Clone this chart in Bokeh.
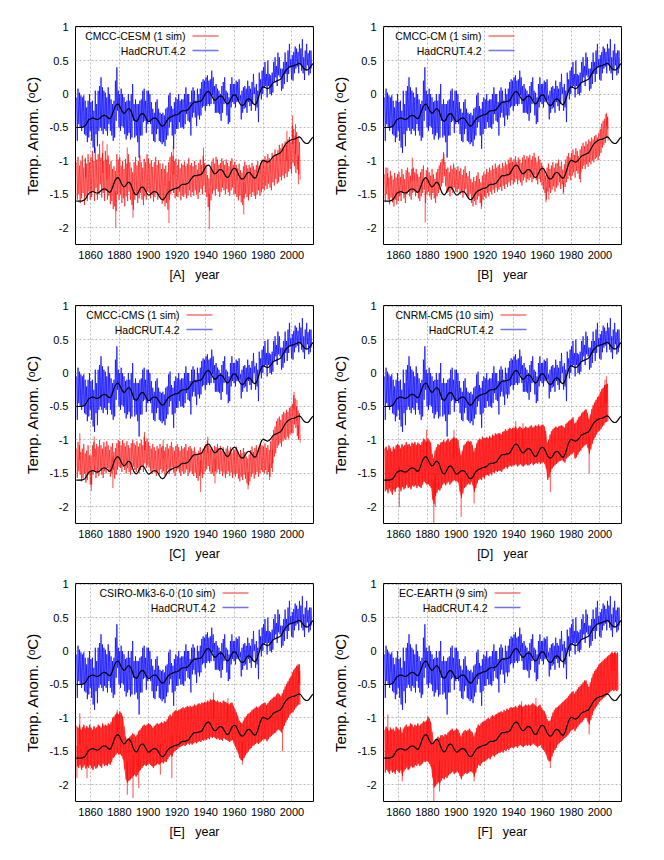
import numpy as np
from bokeh.plotting import figure
from bokeh.layouts import gridplot
from bokeh.models import Range1d, FixedTicker, Label, BoxAnnotation
from bokeh.embed import file_html
from bokeh.resources import INLINE

# ---------------- data ----------------
x_ticks = [1860, 1880, 1900, 1920, 1940, 1960, 1980, 2000]
y_ticks = [-2, -1.5, -1, -0.5, 0, 0.5, 1]
y_tick_labels = ["-2", "-1.5", "-1", "-0.5", "0", "0.5", "1"]

# black smooth curve (annual, 1850-2015); lower copy is shifted by model_offset
smooth_start = 1850
smooth = [
    -0.50, -0.50, -0.50, -0.50, -0.50, -0.49, -0.48, -0.45, -0.41, -0.38,
    -0.37, -0.36, -0.36, -0.37, -0.38, -0.38, -0.37, -0.35, -0.33, -0.32,
    -0.32, -0.33, -0.35, -0.37, -0.36, -0.31, -0.25, -0.19, -0.16, -0.15,
    -0.17, -0.22, -0.26, -0.29, -0.28, -0.25, -0.22, -0.22, -0.25, -0.31,
    -0.37, -0.40, -0.41, -0.38, -0.33, -0.30, -0.29, -0.30, -0.34, -0.38,
    -0.41, -0.41, -0.39, -0.37, -0.36, -0.36, -0.37, -0.40, -0.44, -0.47,
    -0.48, -0.47, -0.44, -0.40, -0.37, -0.35, -0.34, -0.33, -0.32, -0.31,
    -0.31, -0.30, -0.28, -0.26, -0.25, -0.25, -0.25, -0.24, -0.23, -0.20,
    -0.17, -0.14, -0.12, -0.12, -0.12, -0.11, -0.11, -0.10, -0.07, -0.03,
    0.01, 0.03, 0.04, 0.02, -0.02, -0.06, -0.09, -0.09, -0.07, -0.04,
    -0.03, -0.03, -0.05, -0.09, -0.13, -0.15, -0.14, -0.10, -0.05, -0.02,
    -0.01, -0.02, -0.06, -0.11, -0.15, -0.17, -0.17, -0.15, -0.11, -0.08,
    -0.07, -0.08, -0.11, -0.14, -0.16, -0.15, -0.10, -0.03, 0.04, 0.09,
    0.11, 0.10, 0.09, 0.08, 0.09, 0.11, 0.14, 0.17, 0.18, 0.19,
    0.20, 0.21, 0.22, 0.25, 0.29, 0.33, 0.36, 0.38, 0.40, 0.41,
    0.42, 0.42, 0.43, 0.44, 0.45, 0.46, 0.45, 0.42, 0.39, 0.37,
    0.36, 0.36, 0.38, 0.41, 0.44, 0.46,
]
model_offset = -1.1

# HadCRUT.4.2: yearly high / low of the monthly values, 1850-2013
had_start = 1850
had_hi = [
    -0.05, 0.08, 0.02, -0.02, -0.05, -0.02, -0.10, -0.20, -0.10, 0.00,
    -0.12, -0.10, -0.25, 0.05, -0.15, 0.05, 0.12, 0.25, 0.10, 0.05,
    0.02, -0.05, 0.10, 0.00, -0.08, -0.15, -0.10, 0.20, 0.40, 0.05,
    0.00, 0.08, 0.00, -0.05, -0.12, -0.10, 0.00, -0.10, 0.00, 0.15,
    -0.15, -0.08, -0.15, -0.15, -0.10, -0.08, 0.05, 0.08, -0.10, 0.05,
    0.05, 0.00, -0.12, -0.22, -0.28, -0.12, -0.08, -0.22, -0.28, -0.30,
    -0.28, -0.32, -0.22, -0.20, -0.02, 0.02, -0.18, -0.22, -0.12, -0.05,
    -0.08, 0.00, -0.10, -0.08, -0.08, 0.00, 0.10, 0.00, 0.00, -0.12,
    0.05, 0.10, 0.05, -0.10, 0.08, 0.00, 0.08, 0.18, 0.22, 0.20,
    0.25, 0.28, 0.20, 0.22, 0.35, 0.25, 0.12, 0.15, 0.08, 0.05,
    0.00, 0.12, 0.18, 0.25, 0.05, 0.02, -0.05, 0.15, 0.25, 0.15,
    0.15, 0.20, 0.18, 0.22, -0.02, 0.05, 0.10, 0.12, 0.08, 0.20,
    0.12, 0.08, 0.18, 0.30, 0.10, 0.15, 0.05, 0.32, 0.22, 0.35,
    0.40, 0.48, 0.30, 0.50, 0.30, 0.28, 0.32, 0.48, 0.55, 0.42,
    0.62, 0.55, 0.38, 0.38, 0.48, 0.62, 0.48, 0.65, 0.75, 0.52,
    0.58, 0.63, 0.71, 0.68, 0.63, 0.75, 0.68, 0.82, 0.55, 0.65,
    0.75, 0.61, 0.65, 0.65,
]
had_lo = [
    -0.70, -0.45, -0.50, -0.55, -0.50, -0.60, -0.62, -0.72, -0.65, -0.55,
    -0.70, -0.80, -0.88, -0.60, -0.78, -0.55, -0.50, -0.55, -0.60, -0.52,
    -0.55, -0.62, -0.45, -0.55, -0.62, -0.70, -0.65, -0.40, -0.25, -0.50,
    -0.55, -0.48, -0.50, -0.60, -0.68, -0.62, -0.58, -0.68, -0.65, -0.40,
    -0.65, -0.62, -0.72, -0.95, -0.62, -0.62, -0.42, -0.40, -0.58, -0.45,
    -0.40, -0.45, -0.60, -0.70, -0.72, -0.60, -0.52, -0.70, -0.72, -0.75,
    -0.72, -0.78, -0.68, -0.62, -0.50, -0.42, -0.62, -0.82, -0.60, -0.52,
    -0.52, -0.42, -0.50, -0.50, -0.52, -0.45, -0.30, -0.40, -0.42, -0.62,
    -0.35, -0.28, -0.35, -0.48, -0.32, -0.38, -0.32, -0.20, -0.18, -0.25,
    -0.18, -0.15, -0.18, -0.15, -0.02, -0.15, -0.28, -0.28, -0.28, -0.30,
    -0.40, -0.28, -0.15, -0.10, -0.32, -0.45, -0.42, -0.20, -0.12, -0.15,
    -0.20, -0.12, -0.10, -0.10, -0.38, -0.28, -0.22, -0.20, -0.28, -0.12,
    -0.18, -0.25, -0.15, 0.00, -0.25, -0.20, -0.42, 0.02, -0.08, 0.00,
    0.10, 0.12, -0.05, 0.12, 0.00, -0.02, 0.02, 0.18, 0.25, 0.12,
    0.28, 0.25, 0.05, 0.08, 0.15, 0.30, 0.18, 0.30, 0.40, 0.22,
    0.20, 0.31, 0.38, 0.41, 0.31, 0.43, 0.35, 0.31, 0.21, 0.35,
    0.43, 0.28, 0.31, 0.38,
]

# Models (already shifted by -1.1 as plotted): annual centre, per-decade half spread, spikes
cesm_mean = [
    -1.30, -1.22, -1.35, -1.28, -1.20, -1.38, -1.25, -1.32, -1.18, -1.30,
    -1.24, -1.15, -1.30, -1.10, -1.28, -1.20, -1.05, -1.25, -1.18, -1.30,
    -1.15, -1.28, -1.22, -1.35, -1.30, -1.42, -1.38, -1.45, -1.20, -1.28,
    -1.22, -1.35, -1.28, -1.40, -1.25, -1.32, -1.18, -1.30, -1.38, -1.45,
    -1.30, -1.22, -1.35, -1.28, -1.20, -1.30, -1.38, -1.25, -1.30, -1.18,
    -1.22, -1.30, -1.25, -1.35, -1.28, -1.20, -1.32, -1.25, -1.30, -1.38,
    -1.32, -1.40, -1.35, -1.45, -1.30, -1.22, -1.15, -1.20, -1.28, -1.25,
    -1.30, -1.22, -1.35, -1.28, -1.30, -1.25, -1.32, -1.28, -1.20, -1.30,
    -1.25, -1.30, -1.22, -1.28, -1.35, -1.25, -1.20, -1.28, -1.15, -1.25,
    -1.30, -1.45, -1.50, -1.35, -1.25, -1.20, -1.28, -1.18, -1.22, -1.30,
    -1.25, -1.18, -1.22, -1.28, -1.20, -1.25, -1.30, -1.22, -1.18, -1.28,
    -1.25, -1.30, -1.35, -1.28, -1.38, -1.42, -1.32, -1.25, -1.30, -1.35,
    -1.28, -1.32, -1.25, -1.30, -1.35, -1.28, -1.22, -1.30, -1.25, -1.20,
    -1.22, -1.15, -1.20, -1.12, -1.18, -1.22, -1.10, -1.15, -1.05, -1.12,
    -1.08, -1.00, -1.05, -0.98, -1.02, -0.95, -1.00, -0.92, -0.88, -0.95,
    -0.75, -0.80, -0.90, -0.85, -0.92, -1.00,
]
cesm_spread = [0.28, 0.30, 0.30, 0.28, 0.28, 0.26, 0.28, 0.24,
               0.22, 0.24, 0.22, 0.24, 0.22, 0.22, 0.24, 0.28]
cesm_spike_years = [1856, 1868, 1871, 1877, 1885, 1889, 1914, 1917, 1938, 1942, 1966, 1996, 2000, 2002, 2004]
cesm_spike_vals = [-0.95, -0.70, -0.75, -2.00, -0.80, -1.85, -1.93, -0.78, -0.80, -2.02, -1.80, -0.55, -0.32, -0.45, -1.35]

cm_mean = [
    -1.40, -1.30, -1.38, -1.45, -1.35, -1.42, -1.48, -1.38, -1.45, -1.40,
    -1.35, -1.42, -1.30, -1.38, -1.45, -1.32, -1.28, -1.35, -1.40, -1.30,
    -1.28, -1.35, -1.30, -1.38, -1.42, -1.35, -1.30, -1.25, -1.45, -1.32,
    -1.28, -1.35, -1.40, -1.30, -1.38, -1.45, -1.35, -1.30, -1.25, -1.20,
    -1.15, -1.05, -1.20, -1.30, -1.28, -1.35, -1.25, -1.30, -1.22, -1.28,
    -1.30, -1.25, -1.32, -1.28, -1.38, -1.30, -1.25, -1.35, -1.40, -1.32,
    -1.45, -1.50, -1.42, -1.48, -1.40, -1.35, -1.45, -1.50, -1.40, -1.35,
    -1.38, -1.30, -1.35, -1.28, -1.32, -1.25, -1.30, -1.22, -1.28, -1.25,
    -1.22, -1.28, -1.20, -1.25, -1.18, -1.22, -1.15, -1.20, -1.12, -1.18,
    -1.15, -1.10, -1.18, -1.12, -1.15, -1.20, -1.12, -1.08, -1.15, -1.10,
    -1.12, -1.08, -1.15, -1.10, -1.05, -1.12, -1.18, -1.10, -1.15, -1.20,
    -1.25, -1.30, -1.40, -1.28, -1.22, -1.30, -1.25, -1.20, -1.28, -1.22,
    -1.20, -1.15, -1.25, -1.18, -1.30, -1.22, -1.15, -1.10, -1.05, -1.12,
    -1.05, -1.00, -1.08, -0.98, -1.02, -1.10, -1.00, -0.95, -0.90, -0.95,
    -0.88, -0.92, -0.85, -0.88, -0.82, -0.85, -0.80, -0.78, -0.82, -0.75,
    -0.70, -0.62, -0.58, -0.55, -0.48, -0.52,
]
cm_spread = [0.20, 0.18, 0.18, 0.18, 0.18, 0.17, 0.18, 0.18,
             0.17, 0.17, 0.17, 0.18, 0.17, 0.17, 0.17, 0.18]
cm_spike_years = [1852, 1869, 1878, 1891, 1917, 1937, 1962, 1964, 1974, 1986, 2004, 2005]
cm_spike_vals = [-1.10, -0.95, -1.92, -0.90, -1.72, -0.95, -1.62, -1.58, -1.50, -1.32, -0.28, -0.35]

cms_mean = [
    -1.35, -1.25, -1.30, -1.40, -1.35, -1.28, -1.42, -1.38, -1.30, -1.45,
    -1.45, -1.30, -1.25, -1.35, -1.28, -1.32, -1.22, -1.30, -1.35, -1.25,
    -1.30, -1.22, -1.28, -1.35, -1.30, -1.25, -1.38, -1.32, -1.25, -1.20,
    -1.22, -1.28, -1.20, -1.25, -1.30, -1.22, -1.28, -1.32, -1.25, -1.20,
    -1.25, -1.28, -1.22, -1.30, -1.25, -1.20, -1.28, -1.15, -1.22, -1.18,
    -1.22, -1.28, -1.32, -1.25, -1.30, -1.35, -1.28, -1.32, -1.25, -1.30,
    -1.28, -1.35, -1.30, -1.25, -1.32, -1.28, -1.22, -1.30, -1.35, -1.28,
    -1.25, -1.30, -1.35, -1.28, -1.32, -1.30, -1.25, -1.35, -1.30, -1.28,
    -1.32, -1.35, -1.30, -1.38, -1.42, -1.35, -1.30, -1.38, -1.32, -1.28,
    -1.25, -1.20, -1.28, -1.32, -1.30, -1.35, -1.28, -1.30, -1.25, -1.32,
    -1.28, -1.35, -1.30, -1.38, -1.32, -1.28, -1.35, -1.30, -1.38, -1.32,
    -1.35, -1.30, -1.38, -1.42, -1.35, -1.40, -1.32, -1.38, -1.45, -1.48,
    -1.42, -1.35, -1.30, -1.38, -1.32, -1.28, -1.35, -1.30, -1.25, -1.28,
    -1.30, -1.25, -1.32, -1.28, -1.35, -1.22, -1.15, -1.05, -1.00, -0.92,
    -0.88, -0.85, -0.90, -0.82, -0.78, -0.80, -0.75, -0.78, -0.72, -0.70,
    -0.68, -0.55, -0.60, -0.72, -0.78, -0.82,
]
cms_spread = [0.22, 0.22, 0.20, 0.20, 0.20, 0.19, 0.19, 0.19,
              0.19, 0.19, 0.19, 0.20, 0.20, 0.20, 0.20, 0.22]
cms_spike_years = [1852, 1860, 1862, 1875, 1897, 1910, 1936, 1941, 1946, 1969, 1984, 1986, 2001, 2003, 2004]
cms_spike_vals = [-0.90, -1.76, -0.95, -1.72, -0.88, -1.00, -1.78, -0.95, -1.65, -1.74, -1.60, -1.48, -0.28, -0.40, -0.98]

cnrm_mean = [
    -1.45, -1.42, -1.48, -1.40, -1.45, -1.50, -1.42, -1.46, -1.40, -1.38,
    -1.40, -1.45, -1.38, -1.42, -1.40, -1.35, -1.40, -1.38, -1.42, -1.36,
    -1.38, -1.35, -1.40, -1.36, -1.38, -1.40, -1.35, -1.30, -1.32, -1.35,
    -1.32, -1.35, -1.38, -1.55, -1.62, -1.50, -1.45, -1.40, -1.42, -1.38,
    -1.35, -1.32, -1.36, -1.33, -1.30, -1.35, -1.32, -1.30, -1.28, -1.30,
    -1.30, -1.32, -1.45, -1.55, -1.48, -1.40, -1.38, -1.35, -1.33, -1.35,
    -1.32, -1.38, -1.48, -1.42, -1.35, -1.30, -1.28, -1.30, -1.25, -1.28,
    -1.25, -1.24, -1.26, -1.22, -1.25, -1.20, -1.22, -1.18, -1.20, -1.18,
    -1.18, -1.20, -1.16, -1.15, -1.12, -1.15, -1.12, -1.10, -1.12, -1.10,
    -1.10, -1.08, -1.12, -1.10, -1.08, -1.10, -1.12, -1.10, -1.08, -1.10,
    -1.10, -1.08, -1.06, -1.10, -1.08, -1.06, -1.08, -1.05, -1.08, -1.06,
    -1.05, -1.08, -1.15, -1.32, -1.28, -1.20, -1.15, -1.12, -1.10, -1.08,
    -1.08, -1.06, -1.05, -1.04, -1.06, -1.08, -1.02, -1.00, -0.98, -0.96,
    -0.95, -0.92, -1.02, -1.00, -0.96, -0.92, -0.90, -0.86, -0.84, -0.82,
    -0.80, -0.86, -0.95, -0.88, -0.80, -0.74, -0.70, -0.66, -0.62, -0.60,
    -0.56, -0.52, -0.50, -0.46, -0.45, -0.44,
]
cnrm_spread = [0.32, 0.32, 0.32, 0.34, 0.32, 0.32, 0.30, 0.28,
               0.28, 0.28, 0.28, 0.28, 0.26, 0.26, 0.26, 0.28]
cnrm_spike_years = [1860, 1879, 1884, 1885, 1898, 1903, 1912, 1941, 1946, 1965, 1992, 2003, 2004]
cnrm_spike_vals = [-2.00, -0.85, -2.25, -2.00, -0.85, -2.15, -1.95, -0.72, -0.75, -1.78, -1.50, -0.10, -0.05]

csiro_mean = [
    -1.42, -1.45, -1.40, -1.48, -1.44, -1.40, -1.46, -1.42, -1.45, -1.40,
    -1.45, -1.48, -1.42, -1.46, -1.44, -1.40, -1.42, -1.45, -1.38, -1.42,
    -1.40, -1.42, -1.38, -1.40, -1.36, -1.30, -1.28, -1.25, -1.22, -1.25,
    -1.22, -1.25, -1.30, -1.45, -1.60, -1.65, -1.62, -1.60, -1.58, -1.55,
    -1.55, -1.58, -1.55, -1.50, -1.48, -1.45, -1.42, -1.40, -1.42, -1.40,
    -1.38, -1.40, -1.42, -1.45, -1.42, -1.40, -1.38, -1.40, -1.38, -1.36,
    -1.38, -1.35, -1.36, -1.32, -1.28, -1.25, -1.28, -1.22, -1.20, -1.18,
    -1.18, -1.16, -1.15, -1.14, -1.12, -1.14, -1.12, -1.10, -1.12, -1.10,
    -1.12, -1.10, -1.08, -1.10, -1.08, -1.06, -1.08, -1.05, -1.06, -1.04,
    -1.05, -1.02, -1.04, -1.00, -1.02, -1.00, -1.02, -1.04, -1.02, -1.05,
    -1.04, -1.06, -1.02, -1.04, -1.05, -1.06, -1.08, -1.06, -1.05, -1.10,
    -1.15, -1.20, -1.25, -1.32, -1.35, -1.36, -1.32, -1.28, -1.25, -1.22,
    -1.20, -1.18, -1.15, -1.14, -1.12, -1.10, -1.12, -1.10, -1.08, -1.06,
    -1.05, -1.04, -1.08, -1.05, -1.02, -1.00, -0.98, -0.96, -0.95, -0.92,
    -0.90, -0.92, -0.95, -0.90, -0.85, -0.80, -0.76, -0.72, -0.68, -0.65,
    -0.62, -0.58, -0.55, -0.52, -0.50, -0.50,
]
csiro_spread = [0.30, 0.30, 0.30, 0.32, 0.30, 0.30, 0.30, 0.28,
                0.28, 0.28, 0.28, 0.28, 0.27, 0.27, 0.27, 0.30]
csiro_spike_years = [1850, 1852, 1857, 1878, 1885, 1889, 1893, 1908, 1916, 1945, 1955, 1965, 1993, 2004, 2005]
csiro_spike_vals = [-1.90, -0.93, -1.90, -0.88, -2.15, -2.20, -2.05, -1.85, -1.90, -0.62, -0.70, -1.70, -1.50, -0.25, -0.30]

ecearth_mean = [
    -1.50, -1.45, -1.48, -1.52, -1.46, -1.50, -1.48, -1.52, -1.45, -1.48,
    -1.50, -1.46, -1.55, -1.48, -1.45, -1.42, -1.46, -1.44, -1.40, -1.42,
    -1.44, -1.40, -1.42, -1.38, -1.42, -1.40, -1.38, -1.35, -1.36, -1.34,
    -1.32, -1.35, -1.40, -1.55, -1.70, -1.68, -1.65, -1.62, -1.64, -1.60,
    -1.58, -1.60, -1.56, -1.58, -1.54, -1.52, -1.50, -1.48, -1.52, -1.50,
    -1.48, -1.50, -1.55, -1.60, -1.55, -1.52, -1.50, -1.52, -1.50, -1.48,
    -1.50, -1.52, -1.58, -1.52, -1.45, -1.40, -1.42, -1.38, -1.36, -1.35,
    -1.34, -1.32, -1.30, -1.32, -1.28, -1.26, -1.28, -1.25, -1.24, -1.22,
    -1.22, -1.20, -1.22, -1.18, -1.20, -1.16, -1.18, -1.15, -1.14, -1.15,
    -1.14, -1.12, -1.15, -1.12, -1.10, -1.12, -1.14, -1.12, -1.10, -1.12,
    -1.10, -1.12, -1.10, -1.08, -1.10, -1.12, -1.14, -1.12, -1.10, -1.15,
    -1.18, -1.20, -1.25, -1.32, -1.35, -1.34, -1.28, -1.22, -1.18, -1.15,
    -1.12, -1.10, -1.08, -1.06, -1.04, -1.02, -1.00, -0.98, -0.95, -0.92,
    -0.90, -0.88, -0.92, -0.88, -0.85, -0.82, -0.80, -0.78, -0.75, -0.72,
    -0.72, -0.78, -0.82, -0.75, -0.68, -0.62, -0.58, -0.55, -0.52, -0.48,
    -0.46, -0.44, -0.42, -0.40, -0.38, -0.36, -0.34, -0.32, -0.30, -0.32,
    -0.30, -0.32, -0.30,
]
ecearth_spread = [0.32, 0.32, 0.30, 0.34, 0.32, 0.32, 0.30, 0.30, 0.30,
                  0.30, 0.30, 0.30, 0.28, 0.28, 0.28, 0.28, 0.28]
ecearth_spike_years = [1852, 1862, 1880, 1884, 1888, 1912, 1945, 1955, 1965, 1992, 2008, 2010]
ecearth_spike_vals = [-0.95, -1.95, -1.05, -2.25, -2.10, -1.95, -0.75, -0.70, -1.75, -1.25, -0.02, 0.00]

panels = [
    ("A", "CMCC-CESM (1 sim)", cesm_mean, cesm_spread, cesm_spike_years, cesm_spike_vals, False),
    ("B", "CMCC-CM (1 sim)", cm_mean, cm_spread, cm_spike_years, cm_spike_vals, False),
    ("C", "CMCC-CMS (1 sim)", cms_mean, cms_spread, cms_spike_years, cms_spike_vals, False),
    ("D", "CNRM-CM5 (10 sim)", cnrm_mean, cnrm_spread, cnrm_spike_years, cnrm_spike_vals, True),
    ("E", "CSIRO-Mk3-6-0 (10 sim)", csiro_mean, csiro_spread, csiro_spike_years, csiro_spike_vals, True),
    ("F", "EC-EARTH (9 sim)", ecearth_mean, ecearth_spread, ecearth_spike_years, ecearth_spike_vals, True),
]
model_start = 1850

# ---------------- drawing ----------------
FONT = "Liberation Sans, Arial, sans-serif"
RED = "#ff0000"
BLUE = "#0000ff"
FRAME_W, FRAME_H = 238, 218


def zigzag(years, hi, lo):
    xs = np.empty(2 * len(years))
    ys = np.empty(2 * len(years))
    xs[0::2] = years + 0.25
    xs[1::2] = years + 0.75
    ys[0::2] = hi
    ys[1::2] = lo
    return xs, ys


def make_panel(tag, name, mean, spread, sp_years, sp_vals, ensemble, col, row):
    left = 75 if col == 0 else 67
    right = 3 if col == 0 else 10
    top = 26 if row == 0 else 18
    bottom = [43, 42, 45][row]
    p = figure(width=left + FRAME_W + right, height=top + FRAME_H + bottom,
               x_range=Range1d(1849.5, 2015), y_range=Range1d(-2.25, 1.01),
               output_backend="svg", toolbar_location=None,
               min_border_left=left, min_border_right=right,
               min_border_top=top, min_border_bottom=bottom)
    p.outline_line_color = "black"
    p.outline_line_width = 1
    p.background_fill_color = "white"
    p.border_fill_color = "white"

    # model (red)
    m = np.array(mean)
    yrs = model_start + np.arange(len(m))
    s = np.array(spread)[(yrs - model_start) // 10]
    hi, lo = m + s, m - s
    if ensemble:
        p.varea(x=yrs + 0.5, y1=lo, y2=hi, fill_color=RED, fill_alpha=0.6)
        zx, zy = zigzag(yrs, hi, lo)
        p.line(zx, zy, line_color=RED, line_alpha=0.55, line_width=1)
    else:
        zx, zy = zigzag(yrs, hi, lo)
        p.line(zx, zy, line_color=RED, line_alpha=0.6, line_width=1)
    spy = np.array(sp_years)
    p.segment(x0=spy + 0.5, y0=m[spy - model_start], x1=spy + 0.5, y1=sp_vals,
              line_color=RED, line_alpha=0.7, line_width=1)

    # HadCRUT (blue)
    hyrs = had_start + np.arange(len(had_hi))
    hx, hy = zigzag(hyrs, np.array(had_hi), np.array(had_lo))
    p.line(hx, hy, line_color=BLUE, line_alpha=0.72, line_width=1)

    # smooth curves (black)
    syrs = smooth_start + np.arange(len(smooth))
    sm = np.array(smooth)
    p.line(syrs, sm, line_color="black", line_width=1.2)
    p.line(syrs, sm + model_offset, line_color="black", line_width=1.2)

    # axes
    p.xaxis.ticker = FixedTicker(ticks=x_ticks)
    p.yaxis.ticker = FixedTicker(ticks=y_ticks)
    p.yaxis.major_label_overrides = {t: l for t, l in zip(y_ticks, y_tick_labels)}
    for ax in (p.xaxis[0], p.yaxis[0]):
        ax.axis_line_color = None
        ax.major_tick_in = 0
        ax.major_tick_out = 0
        ax.minor_tick_line_color = None
        ax.major_label_text_font = FONT
        ax.major_label_text_font_size = "11px"
        ax.major_label_text_color = "black"
        ax.axis_label_text_font = FONT
        ax.axis_label_text_font_style = "normal"
        ax.axis_label_text_color = "black"
    p.xaxis.major_label_standoff = 6
    p.yaxis.major_label_standoff = 7
    p.xaxis.axis_label = "[" + tag + "]\u00a0\u00a0\u00a0year"
    p.xaxis.axis_label_text_font_size = "12.5px"
    p.xaxis.axis_label_standoff = 6
    p.yaxis.axis_label = "Temp. Anom. (\u1d52C)"
    p.yaxis.axis_label_text_font_size = "15px"
    p.yaxis.axis_label_standoff = 6

    p.xgrid.grid_line_color = "#b8b8b8"
    p.ygrid.grid_line_color = "#b8b8b8"
    p.xgrid.grid_line_dash = "2 2"
    p.ygrid.grid_line_dash = "2 2"
    p.xgrid.grid_line_width = 1
    p.ygrid.grid_line_width = 1

    # legend (text right-aligned, line sample to its right)
    text_end = 8 + 6 * len(name)
    entries = [(name, "#ff7070", 9.5), ("HadCRUT.4.2", "#7070ff", 24)]
    for txt, col_, dy in entries:
        yy = FRAME_H - dy
        p.add_layout(Label(x=text_end, y=yy, x_units="screen", y_units="screen",
                           text=txt, text_align="right", text_baseline="middle",
                           text_font=FONT, text_font_size="10.5px", text_color="black"))
        p.add_layout(BoxAnnotation(left=text_end + 7, right=text_end + 33,
                                   top=yy + 0.8, bottom=yy - 0.8,
                                   left_units="screen", right_units="screen",
                                   top_units="screen", bottom_units="screen",
                                   fill_color=col_, fill_alpha=1.0, line_alpha=0))
    return p


figs = []
for i, pan in enumerate(panels):
    figs.append(make_panel(*pan, col=i % 2, row=i // 2))

grid = gridplot([[figs[0], figs[1]], [figs[2], figs[3]], [figs[4], figs[5]]],
                toolbar_location=None)

open("out.html", "w").write(file_html(grid, INLINE))
